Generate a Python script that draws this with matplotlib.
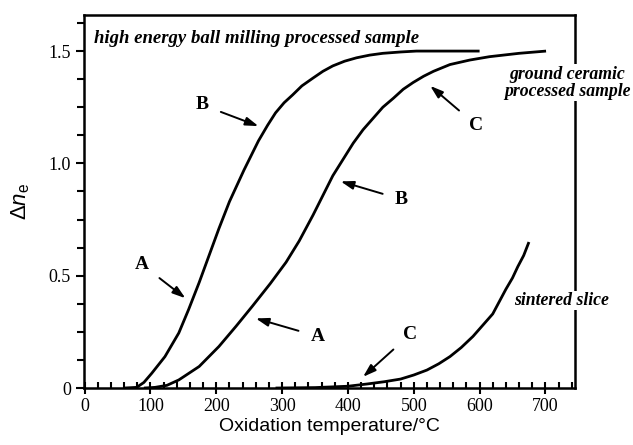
import numpy as np
import matplotlib as mpl
mpl.use('Agg')
import matplotlib.pyplot as plt
from matplotlib.ticker import MultipleLocator

plt.rcParams['mathtext.fontset'] = 'custom'
plt.rcParams['mathtext.rm'] = 'Liberation Sans'
plt.rcParams['mathtext.it'] = 'Liberation Sans:italic'

# curves (temperature / degC, delta n_e)
ball_T = [60, 79, 90, 102, 122, 143, 158, 174, 189, 204, 220, 242, 264, 278, 290,
          303, 316, 330, 347, 362, 377, 395, 413, 433, 453, 480, 504, 550, 600]
ball_n = [0, 0.003, 0.025, 0.066, 0.14, 0.245, 0.35, 0.47, 0.59, 0.71, 0.83, 0.97,
          1.10, 1.17, 1.225, 1.27, 1.305, 1.345, 1.38, 1.41, 1.434, 1.455, 1.47, 1.482,
          1.49, 1.496, 1.50, 1.50, 1.50]

ground_T = [90, 107, 125, 143, 174, 204, 230, 255, 282, 306, 326, 347, 377, 408,
            423, 438, 453, 469, 484, 499, 515, 530, 555, 585, 615, 660, 701]
ground_n = [0, 0.003, 0.012, 0.036, 0.096, 0.185, 0.275, 0.365, 0.465, 0.56, 0.655,
            0.77, 0.945, 1.09, 1.15, 1.20, 1.25, 1.29, 1.33, 1.36, 1.388, 1.41, 1.44,
            1.46, 1.475, 1.49, 1.50]

sinter_T = [290, 350, 400, 429, 455, 480, 500, 520, 538, 555, 572, 590, 605, 620,
            630, 640, 650, 658, 667, 675]
sinter_n = [0, 0.002, 0.008, 0.018, 0.028, 0.04, 0.058, 0.08, 0.108, 0.14, 0.18, 0.23,
            0.28, 0.33, 0.385, 0.44, 0.49, 0.54, 0.59, 0.65]

# arrow labels: (label, text position, arrow tip)
marks = [('B', (179, 1.26), (264, 1.166)),
         ('A', (87, 0.55), (153, 0.40)),
         ('A', (354, 0.23), (260, 0.31)),
         ('B', (481, 0.84), (389, 0.92)),
         ('C', (595, 1.17), (525, 1.345)),
         ('C', (495, 0.24), (423, 0.05))]

fig = plt.figure(figsize=(6.33, 4.45), dpi=100)
ax = fig.add_axes([0.1327, 0.128, 0.7757, 0.838])

for T, n in [(ball_T, ball_n), (ground_T, ground_n), (sinter_T, sinter_n)]:
    ax.plot(T, n, color='k', lw=2.0, solid_capstyle='butt', solid_joinstyle='round')

ax.set_xlim(-1, 745)
ax.set_ylim(0, 1.66)
ax.xaxis.set_major_locator(MultipleLocator(100))
ax.xaxis.set_minor_locator(MultipleLocator(20))
ax.yaxis.set_minor_locator(MultipleLocator(0.125))
ax.set_yticks([0, 0.5, 1.0, 1.5])
ax.set_yticklabels(['0', '0.5', '1.0', '1.5'])

for s in ax.spines.values():
    s.set_linewidth(1.8)

ax.tick_params(axis='x', which='major', direction='inout', length=8, width=1.5)
ax.tick_params(axis='x', which='minor', direction='in', length=4, width=1.5)
ax.tick_params(axis='y', which='major', direction='out', length=6, width=1.5)
ax.tick_params(axis='y', which='minor', direction='out', length=5, width=1.5)
for lab in ax.get_xticklabels() + ax.get_yticklabels():
    lab.set_family('Liberation Serif')
    lab.set_fontsize(13)

ax.set_xlabel('Oxidation temperature/°C', family='Liberation Sans', fontsize=14, labelpad=2)
ax.set_ylabel(r'$\Delta n_{\rm e}$', fontsize=16, labelpad=12)

tfont = dict(family='Liberation Serif', style='italic', weight='bold', fontsize=13.5)
ax.text(14, 1.556, 'high energy ball milling processed sample', ha='left', va='center', **tfont)
tfont['fontsize'] = 12.8
ax.text(733, 1.36, 'ground ceramic\nprocessed sample', ha='center', va='center',
        linespacing=1.0, bbox=dict(fc='white', ec='none', pad=1), zorder=5, **tfont)
ax.text(724, 0.39, 'sintered slice', ha='center', va='center',
        bbox=dict(fc='white', ec='none', pad=1), zorder=5, **tfont)

for lab, xy_text, xy_tip in marks:
    ax.annotate(lab, xy=xy_tip, xytext=xy_text, ha='center', va='center',
                family='Liberation Serif', weight='bold', fontsize=14,
                arrowprops=dict(arrowstyle='-|>,head_length=0.55,head_width=0.18',
                                color='k', lw=1.4, shrinkA=7, shrinkB=0))

fig.savefig('out.png', dpi=100, facecolor='w')
